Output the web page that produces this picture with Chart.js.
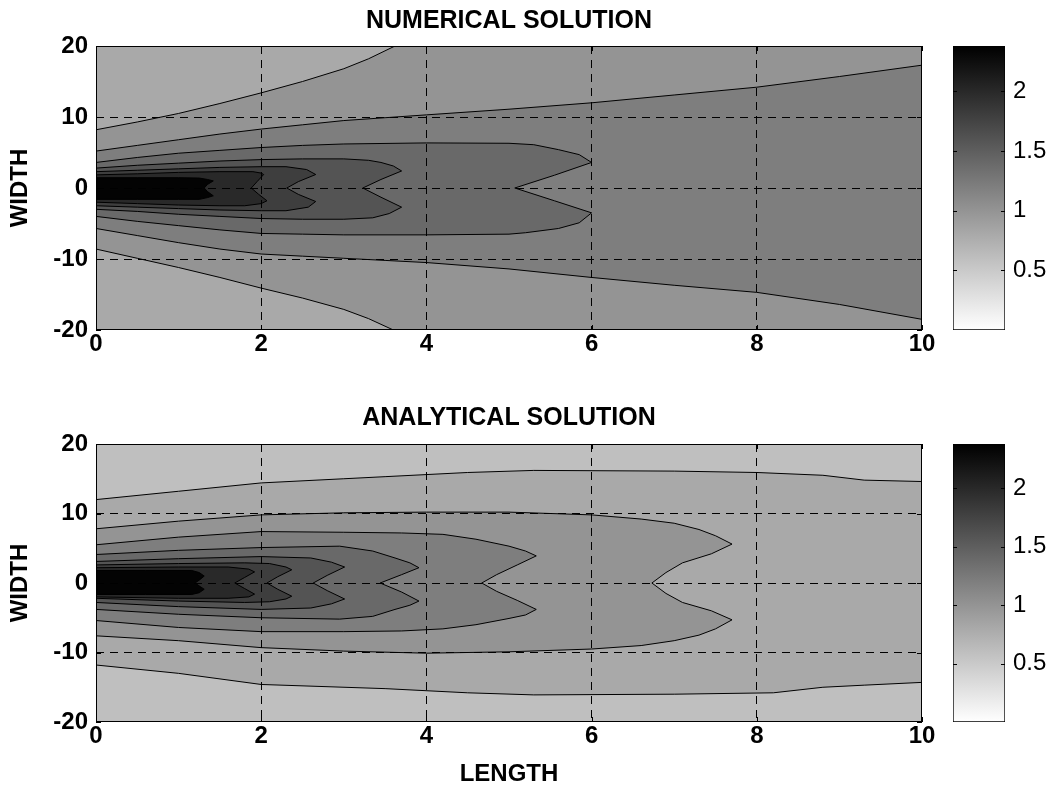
<!DOCTYPE html>
<html>
<head>
<meta charset="utf-8">
<script src="https://cdn.jsdelivr.net/npm/chart.js@4.4.1/dist/chart.umd.min.js"></script>
<style>
  body { margin: 0; background: #fff; }
  #wrap { position: relative; width: 1056px; height: 791px; background: #fff; }
  canvas { position: absolute; }
</style>
</head>
<body>
<div id="wrap">
  <canvas id="num-chart" width="940" height="390" style="left:0;top:0"></canvas>
  <canvas id="num-bar" width="116" height="390" style="left:940px;top:0"></canvas>
  <canvas id="ana-chart" width="940" height="401" style="left:0;top:390px"></canvas>
  <canvas id="ana-bar" width="116" height="401" style="left:940px;top:390px"></canvas>
</div>
<script>
// axes
const xTicks = [0, 2, 4, 6, 8, 10];
const yTicks = [-20, -10, 0, 10, 20];
const cbarMin = 0;
const cbarMax = 2.38;
const cbarTicks = [0.5, 1, 1.5, 2];

// numerical solution - contour levels (first one = background band)
const numLevels = [0.8, 1.0, 1.2, 1.4, 1.6, 1.8, 2.0, 2.35];
// each contour = [length, width] points
const num1 = [[0,8.2],[0.5,9.3],[1,10.5],[1.5,11.9],[2,13.4],[2.5,15.0],[3,16.8],[3.3,18.2],[3.62,20],[3.7,20.6],[10.6,20.6],
  [10.6,-20.6],[3.7,-20.6],[3.6,-20],[3.3,-18.4],[3,-17.1],[2.5,-15.5],[2,-14.1],[1.5,-12.6],[1,-11.2],[0.5,-9.9],[0,-8.6]];
const num2 = [[0,5.2],[0.5,6.0],[1,6.8],[1.5,7.6],[2,8.3],[2.5,8.9],[3,9.5],[3.5,9.9],[4,10.3],[5,11.1],[6,12.0],[7,13.1],[8,14.2],[9,15.7],[10,17.3],[10.6,18.3],
  [10.6,-19.4],[10,-18.5],[9,-16.4],[8,-14.7],[7,-13.7],[6,-12.6],[5,-11.4],[4,-10.5],[3.5,-10.2],[3,-9.9],[2.5,-9.6],[2,-9.3],[1.5,-8.6],[1,-7.7],[0.5,-6.7],[0,-5.7]];
const num3 = [[0,3.6],[0.5,4.3],[1,4.9],[1.5,5.3],[2,5.7],[2.5,6.0],[3,6.2],[4,6.35],[5,6.3],[5.3,6.1],[5.6,5.4],[5.85,4.7],[6.0,3.6],[5.55,1.8],[5.07,0],
  [5.55,-1.8],[6.0,-3.5],[5.85,-4.9],[5.6,-5.7],[5.2,-6.3],[5,-6.5],[4,-6.6],[3,-6.6],[2.5,-6.5],[2,-6.4],[1.5,-5.9],[1,-5.3],[0.5,-4.7],[0,-4.0]];
const num4 = [[0,2.8],[0.5,3.2],[1,3.5],[1.5,3.8],[2,4.0],[2.5,4.1],[3,4.1],[3.3,3.9],[3.45,3.6],[3.6,3.1],[3.7,2.4],[3.45,1.2],[3.23,0],
  [3.45,-1.3],[3.7,-2.7],[3.55,-3.6],[3.35,-4.2],[3,-4.4],[2.5,-4.4],[2,-4.3],[1.5,-4.0],[1,-3.7],[0.5,-3.3],[0,-3.0]];
const num5 = [[0,2.3],[0.5,2.5],[1,2.7],[1.5,2.9],[2,3.0],[2.3,3.0],[2.55,2.6],[2.66,1.9],[2.45,0.9],[2.31,0],
  [2.45,-0.9],[2.66,-1.9],[2.57,-2.7],[2.3,-3.2],[2,-3.2],[1.5,-3.1],[1,-2.9],[0.5,-2.7],[0,-2.5]];
const num6 = [[0,1.85],[0.5,2.0],[1,2.2],[1.5,2.3],[1.9,2.3],[2.0,2.1],[2.03,1.9],[1.95,0.9],[1.88,0],
  [1.97,-0.9],[2.07,-1.8],[2.0,-2.2],[1.8,-2.5],[1.5,-2.5],[1,-2.4],[0.5,-2.2],[0,-2.0]];
const num7 = [[0,1.45],[0.5,1.45],[1,1.45],[1.25,1.4],[1.35,1.2],[1.42,1.0],[1.35,0.5],[1.31,0],
  [1.35,-0.5],[1.42,-1.1],[1.35,-1.35],[1.25,-1.6],[1,-1.6],[0.5,-1.6],[0,-1.6]];

// analytical solution
const anaLevels = [0.6, 0.8, 1.0, 1.2, 1.4, 1.6, 1.8, 2.0, 2.35];
const ana1 = [[0,12.0],[1,13.2],[2,14.4],[3,15.0],[3.5,15.3],[4.5,15.9],[5.3,16.2],[7,16.1],[8,15.9],[8.8,15.5],[9.3,14.8],[10,14.6],[10.6,14.3],
  [10.6,-14.0],[10,-14.3],[9.3,-14.7],[8.8,-15.0],[8.2,-15.8],[7,-16.0],[5.3,-16.1],[4.5,-15.8],[3.5,-15.2],[2,-14.6],[1,-13.0],[0,-11.8]];
const ana2 = [[0,7.8],[1,8.9],[2,9.8],[3,10.1],[4,10.2],[5,10.2],[6,9.8],[6.6,9.2],[7,8.6],[7.3,7.7],[7.5,6.8],[7.7,5.6],[7.45,4.2],[7.1,2.9],[6.9,1.5],[6.73,0],
  [6.9,-1.5],[7.1,-2.8],[7.45,-4.0],[7.7,-5.3],[7.5,-6.6],[7.3,-7.5],[7,-8.3],[6.6,-9.0],[6,-9.5],[5,-9.9],[4,-10.1],[3,-9.8],[2,-9.3],[1,-8.3],[0,-7.6]];
const ana3 = [[0,5.5],[1,6.6],[2,7.4],[3,7.3],[3.7,7.2],[4.2,7.0],[4.6,6.3],[5.0,5.3],[5.2,4.6],[5.33,3.9],[5.1,2.6],[4.85,1.2],[4.67,0],
  [4.85,-1.2],[5.1,-2.5],[5.33,-3.8],[5.2,-4.6],[5.0,-5.1],[4.6,-6.0],[4.2,-6.6],[3.7,-6.9],[3,-7.0],[2,-7.0],[1,-6.4],[0,-5.4]];
const ana4 = [[0,4.1],[1,4.7],[2,5.1],[2.95,5.3],[3.35,4.6],[3.62,3.6],[3.8,2.9],[3.91,2.2],[3.7,1.2],[3.44,0],
  [3.7,-1.3],[3.91,-2.6],[3.8,-3.2],[3.62,-3.8],[3.35,-4.8],[2.95,-5.2],[2,-5.0],[1,-4.5],[0,-3.8]];
const ana5 = [[0,3.1],[1,3.5],[2,3.8],[2.6,3.6],[2.85,3.0],[3.01,2.3],[2.8,1.1],[2.63,0],
  [2.8,-1.1],[3.01,-2.3],[2.85,-3.0],[2.6,-3.6],[2,-3.8],[1,-3.4],[0,-2.8]];
const ana6 = [[0,2.6],[1,2.8],[1.8,2.9],[2.1,2.8],[2.3,2.3],[2.37,1.9],[2.2,0.9],[2.07,0],
  [2.2,-0.9],[2.37,-1.9],[2.3,-2.3],[2.1,-2.7],[1.8,-2.8],[1,-2.6],[0,-2.2]];
const ana7 = [[0,2.2],[1,2.3],[1.6,2.3],[1.85,2.0],[1.92,1.6],[1.8,0.8],[1.68,0],
  [1.8,-0.8],[1.92,-1.6],[1.85,-2.0],[1.6,-2.2],[1,-2.2],[0,-2.0]];
const ana8 = [[0,1.8],[0.6,1.8],[1.16,1.8],[1.25,1.5],[1.31,1.0],[1.26,0.5],[1.2,0],
  [1.26,-0.5],[1.31,-0.9],[1.25,-1.4],[1.16,-1.65],[0.6,-1.65],[0,-1.65]];

const numContours = [num1, num2, num3, num4, num5, num6, num7];
const anaContours = [ana1, ana2, ana3, ana4, ana5, ana6, ana7, ana8];

Chart.defaults.font.family = '"Liberation Sans", Arial, sans-serif';
Chart.defaults.color = '#000';

// reversed gray colormap, white at cbarMin, black at cbarMax
function grayOf(v) {
  const g = Math.round(255 * (1 - (v - cbarMin) / (cbarMax - cbarMin)));
  return `rgb(${g},${g},${g})`;
}

// fill the plot area with the lowest band
const areaBg = {
  id: 'areaBg',
  beforeDatasetsDraw(chart, args, opts) {
    if (!opts.color) return;
    const {ctx, chartArea: a} = chart;
    ctx.save();
    ctx.fillStyle = opts.color;
    ctx.fillRect(a.left, a.top, a.right - a.left, a.bottom - a.top);
    ctx.restore();
  }
};

// matlab style box with inward ticks
const boxTicks = {
  id: 'boxTicks',
  afterDraw(chart, args, opts) {
    const {ctx, chartArea: a} = chart;
    const len = opts.length || 5;
    ctx.save();
    ctx.strokeStyle = '#000';
    ctx.lineWidth = 1;
    ctx.beginPath();
    Object.values(chart.scales).forEach(s => {
      if (s.options.display === false) return;
      s.ticks.forEach(t => {
        const p = Math.round(s.getPixelForValue(t.value)) + 0.5;
        if (s.isHorizontal()) {
          ctx.moveTo(p, a.bottom); ctx.lineTo(p, a.bottom - len);
          ctx.moveTo(p, a.top); ctx.lineTo(p, a.top + len);
        } else {
          ctx.moveTo(a.left, p); ctx.lineTo(a.left + len, p);
          ctx.moveTo(a.right, p); ctx.lineTo(a.right - len, p);
        }
      });
    });
    ctx.stroke();
    if (opts.box !== false) {
      ctx.strokeRect(a.left + 0.5, a.top + 0.5, a.right - a.left - 1, a.bottom - a.top - 1);
    }
    ctx.restore();
  }
};

function contourSets(contours, levels) {
  return contours.map((pts, i) => ({
    data: pts.concat([pts[0]]),
    showLine: true,
    fill: 'shape',
    backgroundColor: grayOf(levels[i + 1]),
    borderColor: '#000',
    borderWidth: 1,
    pointRadius: 0,
    pointHoverRadius: 0,
    order: 100 - i,
    clip: 0
  }));
}

function contourChart(id, title, levels, contours, lay) {
  return new Chart(document.getElementById(id), {
    type: 'scatter',
    data: { datasets: contourSets(contours, levels) },
    plugins: [areaBg, boxTicks],
    options: {
      responsive: false,
      animation: false,
      events: [],
      layout: { padding: { top: 2, right: 18, left: 0, bottom: 0 } },
      plugins: {
        legend: { display: false },
        tooltip: { enabled: false },
        title: {
          display: true,
          fullSize: false,
          text: title,
          font: { size: 25, weight: 'bold' },
          padding: { top: lay.titleTop, bottom: lay.titleBottom }
        },
        areaBg: { color: grayOf(levels[0]) },
        boxTicks: { length: 5 }
      },
      scales: {
        x: {
          type: 'linear',
          min: xTicks[0],
          max: xTicks[xTicks.length - 1],
          afterBuildTicks: s => { s.ticks = xTicks.map(v => ({ value: v })); },
          afterFit: s => { s.height = lay.xHeight; },
          ticks: { font: { size: 24, weight: 'bold' }, padding: 0, maxRotation: 0 },
          grid: {
            z: 1,
            drawTicks: false,
            color: c => (c.tick && (c.tick.value === xTicks[0] || c.tick.value === xTicks[xTicks.length - 1])) ? 'rgba(0,0,0,0)' : '#000'
          },
          border: { display: false, dash: [8, 6] },
          title: {
            display: !!lay.xTitle,
            text: lay.xTitle || '',
            font: { size: 24, weight: 'bold' },
            padding: { top: 0, bottom: 2 }
          }
        },
        y: {
          type: 'linear',
          min: yTicks[0],
          max: yTicks[yTicks.length - 1],
          afterBuildTicks: s => { s.ticks = yTicks.map(v => ({ value: v })); },
          afterFit: s => { s.width = 96; },
          ticks: { font: { size: 24, weight: 'bold' }, padding: 8 },
          grid: {
            z: 1,
            drawTicks: false,
            color: c => (c.tick && (c.tick.value === yTicks[0] || c.tick.value === yTicks[yTicks.length - 1])) ? 'rgba(0,0,0,0)' : '#000'
          },
          border: { display: false, dash: [8, 6] },
          title: {
            display: true,
            text: 'WIDTH',
            font: { size: 24, weight: 'bold' },
            padding: { top: 6, bottom: 0 }
          }
        }
      }
    }
  });
}

function colorBar(id, padTop, padBottom) {
  return new Chart(document.getElementById(id), {
    type: 'bar',
    data: {
      labels: [''],
      datasets: [{
        data: [[cbarMin, cbarMax]],
        backgroundColor: c => {
          const a = c.chart.chartArea;
          if (!a) return '#888';
          const g = c.chart.ctx.createLinearGradient(0, a.bottom, 0, a.top);
          g.addColorStop(0, grayOf(cbarMin));
          g.addColorStop(1, grayOf(cbarMax));
          return g;
        },
        borderColor: '#000',
        borderWidth: 1,
        borderSkipped: false,
        barPercentage: 1,
        categoryPercentage: 1
      }]
    },
    plugins: [boxTicks],
    options: {
      responsive: false,
      animation: false,
      events: [],
      layout: { padding: { top: padTop, bottom: padBottom, left: 13, right: 0 } },
      plugins: {
        legend: { display: false },
        tooltip: { enabled: false },
        boxTicks: { length: 4, box: false }
      },
      scales: {
        x: { display: false },
        y: {
          position: 'right',
          min: cbarMin,
          max: cbarMax,
          afterBuildTicks: s => { s.ticks = cbarTicks.map(v => ({ value: v })); },
          afterFit: s => { s.width = 51; },
          ticks: { font: { size: 24 }, padding: 8, callback: v => String(v) },
          grid: { display: false, drawTicks: false },
          border: { display: false }
        }
      }
    }
  });
}

contourChart('num-chart', 'NUMERICAL SOLUTION', numLevels, numContours,
  { titleTop: 4, titleBottom: 10, xHeight: 60 });
contourChart('ana-chart', 'ANALYTICAL SOLUTION', anaLevels, anaContours,
  { titleTop: 11, titleBottom: 11, xHeight: 69, xTitle: 'LENGTH' });
colorBar('num-bar', 46, 60);
colorBar('ana-bar', 54, 69);
</script>
</body>
</html>
